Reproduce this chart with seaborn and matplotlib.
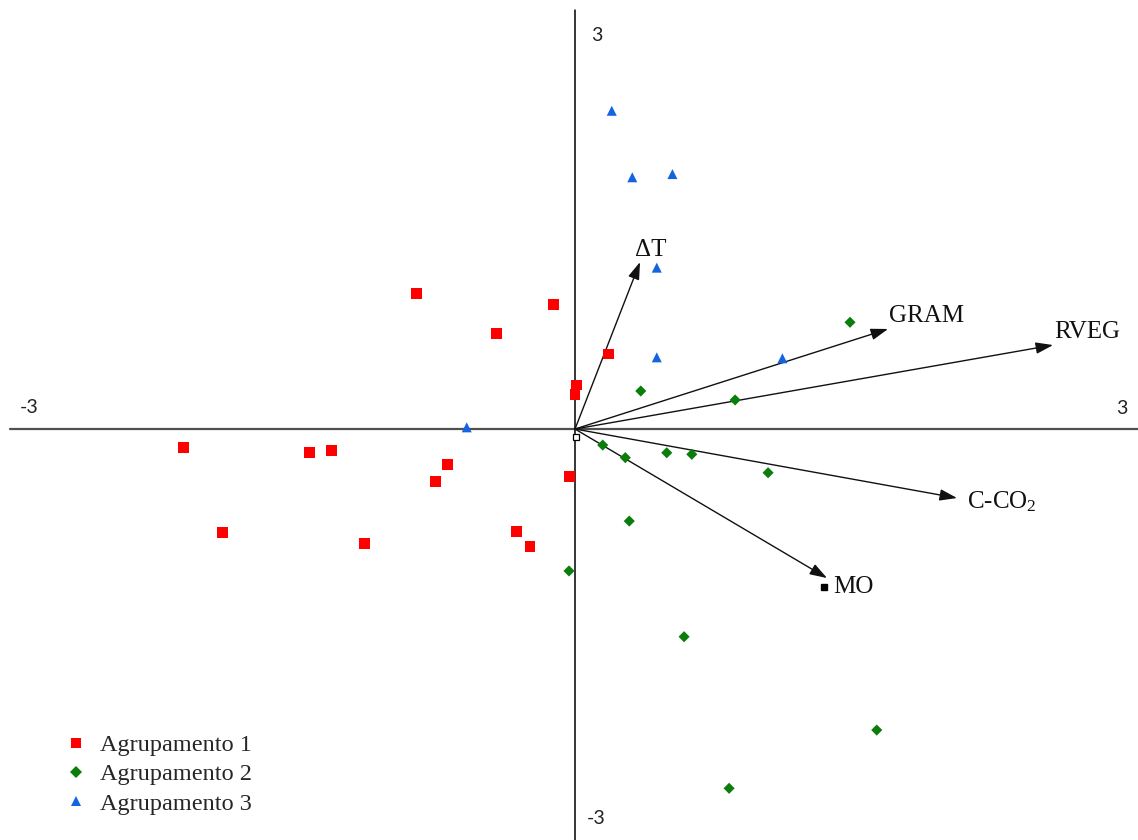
import numpy as np
import pandas as pd
import matplotlib
matplotlib.use("Agg")
import matplotlib.pyplot as plt
import seaborn as sns
from matplotlib.transforms import ScaledTranslation

# ---------------- data ----------------
group_names = ["Agrupamento 1", "Agrupamento 2", "Agrupamento 3"]

g1_x = [-0.841, -0.113, -0.419, 0.177, 0.009, 0.000, -2.080, -1.409, -1.294,
        -0.676, -0.742, -0.027, -1.871, -1.120, -0.313, -0.239]
g1_y = [0.971, 0.893, 0.685, 0.537, 0.315, 0.248, -0.131, -0.165, -0.152,
        -0.253, -0.374, -0.341, -0.742, -0.818, -0.732, -0.843]

g2_x = [0.147, 0.267, 0.487, 0.620, 1.025, 0.288, -0.032, 0.579, 1.602,
        0.818, 0.349, 0.850, 1.460]
g2_y = [-0.115, -0.205, -0.170, -0.181, -0.313, -0.659, -1.016, -1.487,
        -2.155, -2.572, 0.272, 0.208, 0.764]

g3_x = [0.195, 0.304, 0.517, 0.434, 0.434, 1.101, -0.575]
g3_y = [2.278, 1.802, 1.825, 1.155, 0.513, 0.506, 0.012]

vector_names = ["\u0394T", "GRAM", "RVEG", "C-CO$_\\mathregular{2}$", "MO"]
vector_x = [0.345, 1.662, 2.538, 2.028, 1.338]
vector_y = [1.195, 0.716, 0.601, -0.494, -1.067]

axis_limit = 3
axis_tick_labels = ["3", "3", "-3", "-3"]

# ---------------- styles ----------------
palette = {"Agrupamento 1": "#FF0000", "Agrupamento 2": "#0A7D0A",
           "Agrupamento 3": "#1464E0"}
markers = {"Agrupamento 1": "s", "Agrupamento 2": "D", "Agrupamento 3": "^"}
sizes = {"Agrupamento 1": 62, "Agrupamento 2": 32, "Agrupamento 3": 52}

sns.set_style("white")
plt.rcParams["font.family"] = ["Liberation Serif", "DejaVu Serif"]
plt.rcParams["mathtext.fontset"] = "custom"
plt.rcParams["mathtext.rm"] = "Liberation Serif"
plt.rcParams["mathtext.it"] = "Liberation Serif:italic"

df = pd.DataFrame({
    "x": g1_x + g2_x + g3_x,
    "y": g1_y + g2_y + g3_y,
    "grupo": [group_names[0]] * len(g1_x) + [group_names[1]] * len(g2_x)
             + [group_names[2]] * len(g3_x),
})

fig = plt.figure(figsize=(11.38, 8.40), dpi=100)
ax = fig.add_axes([0, 0, 1, 1])
ax.set_xlim(-3.053, 2.989)
ax.set_ylim(-2.942, 3.071)
ax.axis("off")

# axes through origin
ax.plot([-axis_limit, axis_limit], [0, 0], color="#505050", lw=1.6, zorder=1)
ax.plot([0, 0], [-axis_limit, axis_limit], color="black", lw=1.1, zorder=1)

# axis end labels
tick_pos = [(0, axis_limit), (axis_limit, 0), (-axis_limit, 0), (0, -axis_limit)]
tick_off = [(22, -26), (-18, 21), (19, 22), (21, 30)]
for lab, pos, off in zip(axis_tick_labels, tick_pos, tick_off):
    ax.annotate(lab, xy=pos, xytext=off, textcoords="offset pixels",
                ha="center", va="center", fontsize=14, family="Lato",
                color="#222222", annotation_clip=False)

# scatter points
sns.scatterplot(data=df, x="x", y="y", hue="grupo", style="grupo", size="grupo",
                hue_order=group_names, style_order=group_names,
                size_order=group_names, palette=palette, markers=markers,
                sizes=sizes, linewidth=0, ax=ax, zorder=3)

# vectors
label_off = [(-5, 6), (1, 7), (1, 7), (10, -10), (6, -15)]
for name, vx, vy, off in zip(vector_names, vector_x, vector_y, label_off):
    ax.annotate("", xy=(vx, vy), xytext=(0, 0),
                arrowprops=dict(arrowstyle="-|>,head_length=1.05,head_width=0.35",
                                mutation_scale=10, lw=1.0, color="#111111",
                                shrinkA=0, shrinkB=0), zorder=2)
    ax.annotate(name, xy=(vx, vy), xytext=off, textcoords="offset pixels",
                ha="left", va="baseline", fontsize=18, color="#111111")

# small anchor squares
ax.plot(0, 0, marker="s", ms=4, mfc="white", mec="black", mew=0.9,
        transform=ax.transData + ScaledTranslation(1 / 100, -8 / 100,
                                                   fig.dpi_scale_trans),
        zorder=4)
ax.plot(vector_x[4], vector_y[4], marker="s", ms=4, mfc="black", mec="black",
        transform=ax.transData + ScaledTranslation(-3 / 100, -9 / 100,
                                                   fig.dpi_scale_trans),
        zorder=4)

# legend
leg = ax.get_legend()
handles = leg.legend_handles
labels = [t.get_text() for t in leg.get_texts()]
leg.remove()
ax.legend(handles, labels, loc="upper left",
          bbox_to_anchor=(64 / 1138, 1 - 734 / 840), frameon=False,
          prop={"family": "Liberation Serif", "size": 17.5},
          handlelength=1.0, handletextpad=0.5, labelspacing=0.3,
          borderpad=0, borderaxespad=0)

fig.savefig("out.png", dpi=100)
